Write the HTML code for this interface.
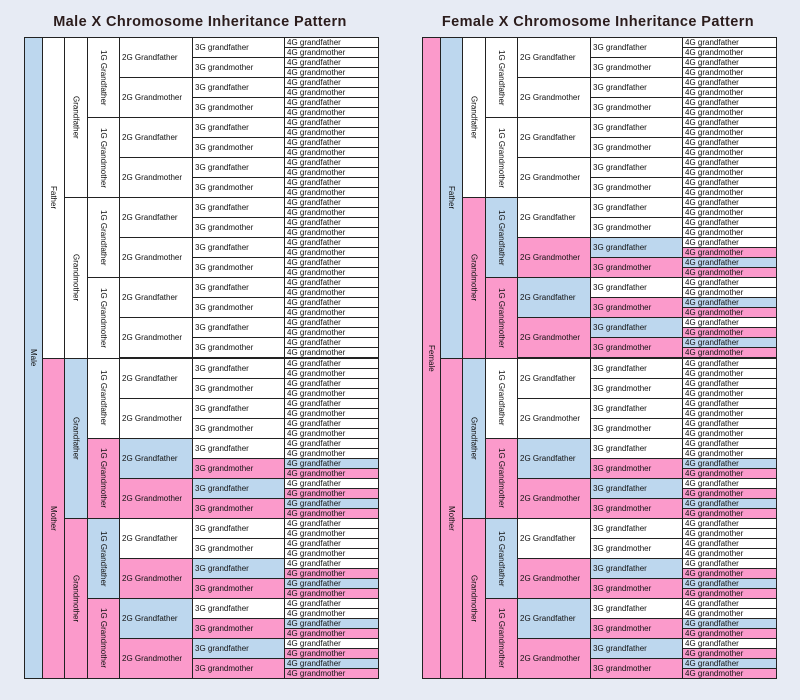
<!DOCTYPE html>
<html><head><style>
body{margin:0;width:800px;height:700px;background:#e7ebf4;position:relative;overflow:hidden;font-family:"Liberation Sans",sans-serif}
.t{position:absolute;top:14px;font-size:14.5px;font-weight:bold;color:#2b1c1c;width:400px;text-align:center;letter-spacing:0.4px}
.c{position:absolute;box-sizing:border-box;border:1px solid #222;font-size:8px;color:#111;display:flex;align-items:center;padding-left:2px;white-space:nowrap;overflow:hidden}
.v{justify-content:center;padding-left:0}
.v span{writing-mode:vertical-rl}
.w{background:#fff}.b{background:#bdd7ee}.p{background:#fb9acb}
</style></head><body>
<div class="t" style="left:0">Male X Chromosome Inheritance Pattern</div>
<div class="t" style="left:398px">Female X Chromosome Inheritance Pattern</div>
<div id="r"></div>
<script>
var cols=[0,18,40,63,95,168,260,354];
var names=[["Male","Female"],["Father","Mother"],["Grandfather","Grandmother"],["1G Grandfather","1G Grandmother"],["2G Grandfather","2G Grandmother"],["3G grandfather","3G grandmother"],["4G grandfather","4G grandmother"]];
var out="",top0=37,H=641;
function draw(x0,col,y,h,g,colored){
 var cls=colored?(g==0?"b":"p"):"w";
 var x=x0+cols[col],w=cols[col+1]-cols[col];
 var lab=names[col][g];
 var vert=col<4;
 out+='<div class="c '+cls+(vert?' v':'')+'" style="left:'+x+'px;top:'+(top0+y).toFixed(2)+'px;width:'+(w+1)+'px;height:'+(h+1).toFixed(2)+'px">'+(vert?'<span>'+lab+'</span>':lab)+'</div>';
 if(col<6){
  var fc=colored&&g==1, mc=colored;
  draw(x0,col+1,y,h/2,0,fc);
  draw(x0,col+1,y+h/2,h/2,1,mc);
 }
}
draw(24,0,0,H,0,true);
draw(422,0,0,H,1,true);
document.getElementById("r").innerHTML=out;
</script>
</body></html>
